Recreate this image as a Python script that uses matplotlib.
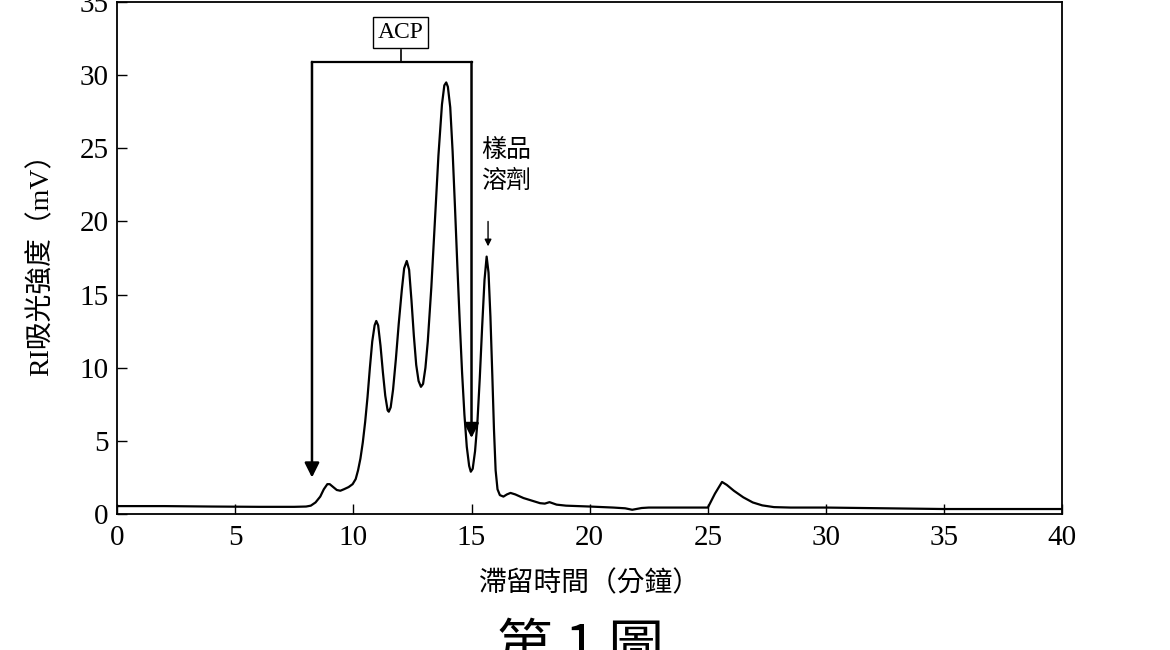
import matplotlib.pyplot as plt

plt.rcParams['font.family'] = ['Liberation Serif', 'Noto Sans CJK TC', 'DejaVu Sans']

# 讀取自圖片的層析曲線（滯留時間, 訊號）
time = [0, 2, 4, 6, 7.5, 8.0, 8.2, 8.4, 8.6, 8.75, 8.9, 9.0, 9.15, 9.3, 9.45,
        9.6, 9.8, 9.97, 10.1, 10.2, 10.3, 10.4, 10.5, 10.6, 10.7, 10.8, 10.9,
        10.97, 11.05, 11.15, 11.25, 11.35, 11.45, 11.5, 11.58, 11.68, 11.8,
        11.92, 12.05, 12.15, 12.26, 12.36, 12.46, 12.56, 12.66, 12.76, 12.86,
        12.95, 13.05, 13.15, 13.3, 13.45, 13.6, 13.75, 13.85, 13.93, 14.0,
        14.1, 14.2, 14.3, 14.4, 14.5, 14.6, 14.7, 14.8, 14.9, 14.97, 15.05,
        15.15, 15.25, 15.35, 15.45, 15.55, 15.64, 15.72, 15.8, 15.88, 15.95,
        16.02, 16.1, 16.2, 16.35, 16.5, 16.65, 16.85, 17.2, 17.6, 17.9, 18.1,
        18.3, 18.6, 19.0, 20.0, 21.0, 21.5, 21.8, 22.2, 22.5, 24.0, 25.0,
        25.3, 25.6, 25.8, 26.1, 26.5, 26.9, 27.3, 27.8, 28.5, 30.0, 35.0, 40.0]
signal = [0.55, 0.55, 0.52, 0.5, 0.5, 0.52, 0.58, 0.8, 1.2, 1.7, 2.05, 2.05,
          1.85, 1.65, 1.6, 1.7, 1.85, 2.05, 2.4, 3.0, 3.8, 4.9, 6.3, 8.0, 10.0,
          11.8, 12.9, 13.2, 12.9, 11.5, 9.7, 8.1, 7.1, 7.0, 7.3, 8.5, 10.6,
          13.0, 15.3, 16.8, 17.3, 16.7, 14.6, 12.2, 10.2, 9.1, 8.7, 8.9, 10.0,
          11.8, 15.5, 20.0, 24.5, 28.0, 29.3, 29.5, 29.2, 27.8, 24.8, 21.0,
          17.0, 13.2, 9.7, 6.8, 4.6, 3.3, 2.9, 3.1, 4.3, 6.3, 9.3, 12.8, 16.0,
          17.6, 16.5, 13.5, 9.5, 5.8, 3.0, 1.7, 1.3, 1.2, 1.35, 1.45, 1.35,
          1.1, 0.9, 0.75, 0.72, 0.82, 0.65, 0.58, 0.52, 0.45, 0.4, 0.3, 0.42,
          0.45, 0.45, 0.45, 1.4, 2.2, 2.0, 1.6, 1.15, 0.8, 0.6, 0.48, 0.45,
          0.45, 0.35, 0.35]

xticks = [0, 5, 10, 15, 20, 25, 30, 35, 40]
yticks = [0, 5, 10, 15, 20, 25, 30, 35]

# ACP 區間
acp_start, acp_end = 8.25, 15.0
acp_mid = 12.0
acp_top = 30.9
acp_left_tip, acp_right_tip = 2.5, 5.2
solvent_time = 15.7

fig = plt.figure(figsize=(11.7, 6.5), dpi=100)
ax = fig.add_axes([0.1, 0.209, 0.808, 0.788])

ax.plot(time, signal, color='black', lw=1.6)

ax.set_xlim(0, 40)
ax.set_ylim(0, 35)
ax.set_xticks(xticks)
ax.set_yticks(yticks)
ax.tick_params(direction='in', length=7, width=1, labelsize=21, pad=8)
ax.tick_params(axis='y', pad=6)
for s in ax.spines.values():
    s.set_linewidth(1.3)

ax.set_xlabel('滯留時間（分鐘）', fontsize=20, family=['Noto Sans CJK TC'], labelpad=12)
ax.set_ylabel('RI吸光強度（mV）', fontsize=20, family=['Liberation Serif', 'Noto Sans CJK TC'],
              labelpad=18)

# ACP 括號與箭頭
ax.plot([acp_start, acp_end], [acp_top, acp_top], color='black', lw=1.6)
ax.plot([acp_mid, acp_mid], [acp_top, 31.7], color='black', lw=1.2)
ax.text(acp_mid, 32.9, 'ACP', ha='center', va='center', fontsize=17,
        bbox=dict(boxstyle='square,pad=0.2', fc='white', ec='black', lw=1))
for x, tip in [(acp_start, acp_left_tip), (acp_end, acp_right_tip)]:
    ax.annotate('', xy=(x, tip), xytext=(x, acp_top),
                arrowprops=dict(arrowstyle='-|>', color='black', lw=1.8,
                                mutation_scale=22, shrinkA=0, shrinkB=0))

# 樣品溶劑
ax.text(16.45, 23.8, '樣品\n溶劑', ha='center', va='center', fontsize=18,
        family=['Noto Sans CJK TC'], linespacing=1.25)
ax.annotate('', xy=(solvent_time, 18.3), xytext=(solvent_time, 20.0),
            arrowprops=dict(arrowstyle='-|>', color='black', lw=1,
                            mutation_scale=10, shrinkA=0, shrinkB=0))

fig.text(0.496, 0.045, '第 1 圖', ha='center', va='top', fontsize=40,
         family=['Noto Sans CJK TC'])

fig.savefig('out.png', dpi=100)
